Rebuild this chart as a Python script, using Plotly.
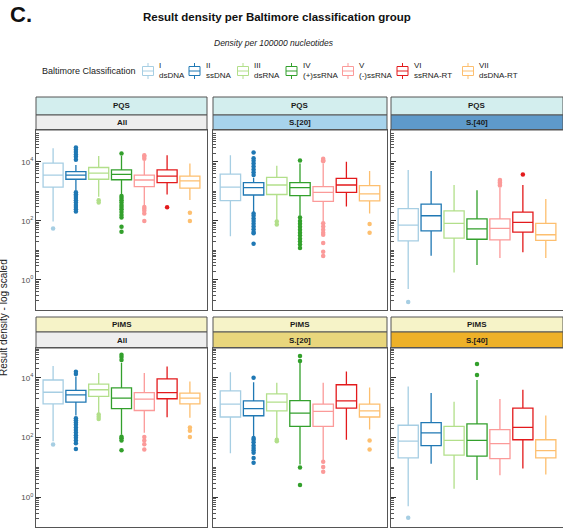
import plotly.graph_objects as go

# ---------------- data ----------------
categories = ["I", "II", "III", "IV", "V", "VI", "VII"]
category_names = ["dsDNA", "ssDNA", "dsRNA", "(+)ssRNA", "(-)ssRNA", "ssRNA-RT", "dsDNA-RT"]
colors = ["#A6CEE3", "#1F78B4", "#B2DF8A", "#33A02C", "#FB9A99", "#E31A1C", "#FDBF6F"]

rows = ["PQS", "PiMS"]
subsets = ["All", "S.[20]", "S.[40]"]

# PQS - All
pqs_all_low = [95, 1100, 660, 800, 350, 790, 510]
pqs_all_q1 = [1400, 2600, 2600, 2500, 1450, 2000, 1300]
pqs_all_med = [3600, 3600, 4200, 3800, 2450, 3300, 2300]
pqs_all_q3 = [9100, 4700, 6500, 5400, 3600, 5400, 3300]
pqs_all_high = [29000, 7900, 16000, 16000, 11000, 17000, 8900]
pqs_all_out = [
    [56],
    [12000, 15000, 18000, 22000, 26000, 31000, 950, 800, 700, 600, 500, 420, 350, 300, 250, 210],
    [500, 420],
    [19500, 700, 600, 500, 420, 350, 300, 250, 200, 160, 130, 63, 43],
    [13000, 15000, 17000, 300, 260, 220, 180, 100],
    [290],
    [190, 100],
]

# PQS - S.[20]
pqs_20_low = [30, 200, 107, 150, 95, 310, 180]
pqs_20_q1 = [490, 760, 790, 720, 460, 930, 480]
pqs_20_med = [1400, 1350, 1660, 1350, 930, 1660, 830]
pqs_20_q3 = [3900, 2000, 3000, 2000, 1450, 2800, 1580]
pqs_20_high = [17000, 2900, 7400, 8900, 8900, 10200, 4900]
pqs_20_out = [
    [],
    [21000, 13500, 11000, 8900, 7100, 5600, 4500, 3600, 180, 150, 120, 100, 80, 65, 52, 42, 38, 17],
    [95, 76],
    [11200, 130, 100, 80, 63, 50, 40, 32, 25, 20, 16, 12],
    [13000, 11500, 10500, 83, 65, 50, 40, 34, 18, 9, 6.5],
    [],
    [79, 40],
]

# PQS - S.[40]
pqs_40_low = [0.49, 6.6, 1.8, 3.2, 5.5, 8.7, 5.5]
pqs_40_q1 = [21, 46, 26, 24, 23, 42, 22]
pqs_40_med = [72, 150, 83, 54, 56, 89, 34]
pqs_40_q3 = [260, 370, 220, 117, 117, 200, 83]
pqs_40_high = [5400, 4900, 1660, 1100, 1350, 1660, 560]
pqs_40_out = [[0.18], [], [], [], [1600, 1800, 2000, 2250, 2450], [3800], []]

# PiMS - All
pims_all_low = [76, 550, 660, 126, 145, 480, 460]
pims_all_q1 = [1350, 1550, 2400, 930, 810, 2000, 1350]
pims_all_med = [3300, 2700, 4000, 2100, 1950, 3200, 2100]
pims_all_q3 = [8500, 3800, 6200, 4600, 3200, 9300, 3100]
pims_all_high = [25000, 11200, 14500, 32000, 14500, 24000, 7600]
pims_all_out = [
    [59],
    [13500, 16000, 450, 380, 320, 270, 220, 180, 150, 120, 100, 80, 65, 42],
    [590, 500, 420],
    [40000, 50000, 59000, 107, 95, 81, 38],
    [105, 80, 60, 40],
    [],
    [220, 170, 105],
]

# PiMS - S.[20]
pims_20_low = [30, 110, 98, 12.6, 17, 85, 186]
pims_20_q1 = [490, 540, 790, 240, 240, 980, 490]
pims_20_med = [1320, 930, 1550, 660, 760, 1700, 790]
pims_20_q3 = [3700, 1700, 2900, 1740, 1320, 5900, 1320]
pims_20_high = [15500, 7100, 6900, 32000, 6900, 16200, 4800]
pims_20_out = [
    [],
    [10200, 98, 85, 70, 55, 45, 38, 31, 21, 14.5],
    [85, 76],
    [37000, 54000, 10, 2.6],
    [15.5, 10.5, 7.2],
    [],
    [81, 40],
]

# PiMS - S.[40]
pims_40_low = [0.51, 13.5, 1.95, 3.8, 5.5, 9.3, 5.9]
pims_40_q1 = [21, 54, 26, 24, 20, 85, 21]
pims_40_med = [76, 145, 81, 81, 63, 220, 37]
pims_40_q3 = [260, 320, 240, 290, 186, 980, 85]
pims_40_high = [5100, 3100, 1600, 8500, 1950, 4000, 550]
pims_40_out = [[0.21], [], [], [12600, 29000], [], [], []]

panel_data = {
    ("PQS", "All"): (pqs_all_low, pqs_all_q1, pqs_all_med, pqs_all_q3, pqs_all_high, pqs_all_out),
    ("PQS", "S.[20]"): (pqs_20_low, pqs_20_q1, pqs_20_med, pqs_20_q3, pqs_20_high, pqs_20_out),
    ("PQS", "S.[40]"): (pqs_40_low, pqs_40_q1, pqs_40_med, pqs_40_q3, pqs_40_high, pqs_40_out),
    ("PiMS", "All"): (pims_all_low, pims_all_q1, pims_all_med, pims_all_q3, pims_all_high, pims_all_out),
    ("PiMS", "S.[20]"): (pims_20_low, pims_20_q1, pims_20_med, pims_20_q3, pims_20_high, pims_20_out),
    ("PiMS", "S.[40]"): (pims_40_low, pims_40_q1, pims_40_med, pims_40_q3, pims_40_high, pims_40_out),
}

tick_vals = [1, 100, 10000]
tick_text = ["10<sup>0</sup>", "10<sup>2</sup>", "10<sup>4</sup>"]
minor_vals = [k * 10.0 ** d for d in range(-1, 5) for k in range(1, 10)
              if not (k == 1 and d in (0, 2, 4))]

# ---------------- layout geometry ----------------
W, H = 563, 530
FONT = "Liberation Sans, Arial, sans-serif"


def fx(px):
    return px / W


def fy(py):
    return 1 - py / H


col_px = [(36, 207), (213, 387), (391, 563)]
row_plot_px = [(130, 310), (348, 527)]
row_strip_px = [(97, 115, 130), (317, 332, 348)]
y_ranges = [[-1.02, 5.085], [-0.99, 5.0]]

row_strip_colors = {"PQS": "#d3eeee", "PiMS": "#f6f3c8"}
sub_strip_colors = {
    ("PQS", "All"): "#eeeeee",
    ("PQS", "S.[20]"): "#a7d3ec",
    ("PQS", "S.[40]"): "#5e9acb",
    ("PiMS", "All"): "#eeeeee",
    ("PiMS", "S.[20]"): "#e9d67c",
    ("PiMS", "S.[40]"): "#eeb128",
}

fig = go.Figure()
layout = dict(
    width=W, height=H,
    margin=dict(l=0, r=0, t=0, b=0),
    paper_bgcolor="white", plot_bgcolor="white",
    showlegend=False,
    font=dict(family=FONT, size=9, color="#222"),
    boxmode="overlay",
)
shapes = []
annotations = []

for r, row in enumerate(rows):
    for c, sub in enumerate(subsets):
        k = r * 3 + c + 1
        sfx = "" if k == 1 else str(k)
        xa, ya = "x" + sfx, "y" + sfx
        low, q1, med, q3, high, outs = panel_data[(row, sub)]
        for i in range(len(categories)):
            fig.add_trace(go.Box(
                x=[i + 1], q1=[q1[i]], median=[med[i]], q3=[q3[i]],
                lowerfence=[low[i]], upperfence=[high[i]],
                width=0.88, whiskerwidth=0, boxpoints=False,
                line=dict(color=colors[i], width=1.3), fillcolor="white",
                name=categories[i] + " " + category_names[i],
                xaxis=xa, yaxis=ya, showlegend=False,
            ))
            if outs[i]:
                fig.add_trace(go.Scatter(
                    x=[i + 1] * len(outs[i]), y=outs[i], mode="markers",
                    marker=dict(color=colors[i], size=4.5, line=dict(width=0)),
                    xaxis=xa, yaxis=ya, showlegend=False, hoverinfo="y",
                ))
        x0, x1 = col_px[c]
        p0, p1 = row_plot_px[r]
        layout["xaxis" + sfx] = dict(
            domain=[fx(x0), fx(x1)], range=[0.25, 7.75], anchor=ya,
            showticklabels=False, ticks="", showgrid=False, zeroline=False,
            showline=True, mirror=True, linecolor="#555", linewidth=1,
        )
        layout["yaxis" + sfx] = dict(
            domain=[fy(p1), fy(p0)], type="log", range=y_ranges[r], anchor=xa,
            tickmode="array", tickvals=tick_vals, ticktext=tick_text,
            showticklabels=(c == 0), ticks="inside", ticklen=5,
            tickcolor="#333", tickwidth=1,
            minor=dict(tickmode="array", tickvals=minor_vals, ticks="inside",
                       ticklen=2.5, tickcolor="#555", tickwidth=1, showgrid=False),
            tickfont=dict(size=8, color="#4d4d4d"),
            showgrid=False, zeroline=False,
            showline=True, mirror=True, linecolor="#555", linewidth=1,
        )
        s0, s1, s2 = row_strip_px[r]
        shapes.append(dict(type="rect", xref="paper", yref="paper",
                           x0=fx(x0), x1=fx(x1), y0=fy(s1), y1=fy(s0),
                           fillcolor=row_strip_colors[row],
                           line=dict(color="#555", width=1), layer="below"))
        shapes.append(dict(type="rect", xref="paper", yref="paper",
                           x0=fx(x0), x1=fx(x1), y0=fy(s2), y1=fy(s1),
                           fillcolor=sub_strip_colors[(row, sub)],
                           line=dict(color="#555", width=1), layer="below"))
        annotations.append(dict(text="<b>" + row + "</b>", xref="paper", yref="paper",
                                x=fx((x0 + x1) / 2), y=fy((s0 + s1) / 2),
                                showarrow=False, xanchor="center", yanchor="middle",
                                font=dict(size=8, color="#1a1a1a")))
        annotations.append(dict(text="<b>" + sub + "</b>", xref="paper", yref="paper",
                                x=fx((x0 + x1) / 2), y=fy((s1 + s2) / 2),
                                showarrow=False, xanchor="center", yanchor="middle",
                                font=dict(size=8, color="#1a1a1a")))

# titles
annotations.append(dict(text="<b>C.</b>", xref="paper", yref="paper", x=fx(8), y=fy(15),
                        xanchor="left", yanchor="middle", showarrow=False,
                        font=dict(size=22, color="#111")))
annotations.append(dict(text="<b>Result density per Baltimore classification group</b>",
                        xref="paper", yref="paper", x=fx(277), y=fy(17),
                        xanchor="center", yanchor="middle", showarrow=False,
                        font=dict(size=11.5, color="#111")))
annotations.append(dict(text="<i>Density per 100000 nucleotides</i>",
                        xref="paper", yref="paper", x=fx(274), y=fy(43),
                        xanchor="center", yanchor="middle", showarrow=False,
                        font=dict(size=8.5, color="#222")))
annotations.append(dict(text="Result density - log scaled", xref="paper", yref="paper",
                        x=fx(3), y=fy(318), textangle=-90, xanchor="center", yanchor="middle",
                        showarrow=False, font=dict(size=10, color="#222")))

# manual legend
annotations.append(dict(text="Baltimore Classification", xref="paper", yref="paper",
                        x=fx(40), y=fy(71), xanchor="left", yanchor="middle",
                        showarrow=False, font=dict(size=9, color="#222")))
legend_icon_x = [148, 194.5, 243, 291.5, 348, 402.5, 468]
for i, cx in enumerate(legend_icon_x):
    col = colors[i]
    shapes.append(dict(type="rect", xref="paper", yref="paper",
                       x0=fx(cx - 5.5), x1=fx(cx + 5.5), y0=fy(75.5), y1=fy(66.5),
                       fillcolor="white", line=dict(color=col, width=1)))
    for (a, b) in [(63, 66.5), (75.5, 79)]:
        shapes.append(dict(type="line", xref="paper", yref="paper",
                           x0=fx(cx), x1=fx(cx), y0=fy(a), y1=fy(b),
                           line=dict(color=col, width=1)))
    shapes.append(dict(type="line", xref="paper", yref="paper",
                       x0=fx(cx - 5.5), x1=fx(cx + 5.5), y0=fy(71), y1=fy(71),
                       line=dict(color=col, width=1)))
    annotations.append(dict(text=categories[i] + "<br>" + category_names[i],
                            xref="paper", yref="paper", x=fx(cx + 9), y=fy(71),
                            xanchor="left", yanchor="middle", align="left",
                            showarrow=False, font=dict(size=8, color="#222")))

layout["shapes"] = shapes
layout["annotations"] = annotations
fig.update_layout(**layout)
fig.write_html(
    "out.html",
    config={"displayModeBar": False},
    post_script="document.body.style.margin='0px';document.body.style.padding='0px';"
                "document.body.style.overflow='hidden';",
)
